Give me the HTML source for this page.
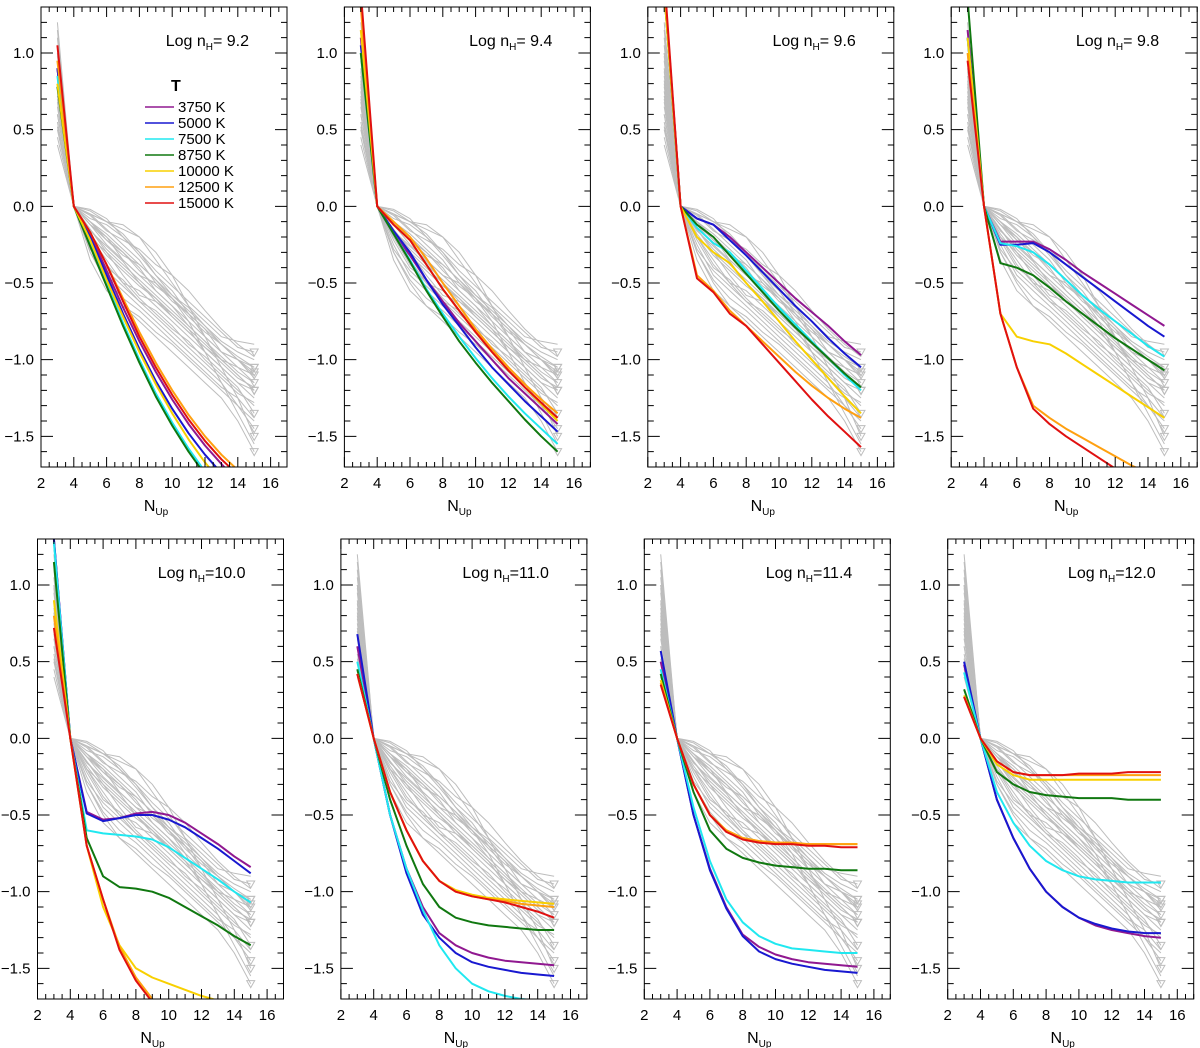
<!DOCTYPE html>
<html><head><meta charset="utf-8"><style>
html,body{margin:0;padding:0;background:#fff;}
svg{display:block;font-family:"Liberation Sans",Arial,sans-serif;}
</style></head><body>
<svg id="chart" width="1200" height="1048" viewBox="0 0 1200 1048" xmlns="http://www.w3.org/2000/svg"></svg>
<script>
const nUp = [3,4,5,6,7,8,9,10,11,12,13,14,15];
const xTicks = [2,4,6,8,10,12,14,16];
const yTicks = [-1.5,-1.0,-0.5,0.0,0.5,1.0];
const yTickLabels = ["\u22121.5","\u22121.0","\u22120.5","0.0","0.5","1.0"];
const densityLabels = ["= 9.2","= 9.4","= 9.6","= 9.8","=10.0","=11.0","=11.4","=12.0"];
const tempLabels = ["3750 K","5000 K","7500 K","8750 K","10000 K","12500 K","15000 K"];
const tempColors = ["#901890","#1818d0","#20e8f0","#107810","#f8d000","#ffa010","#e01010"];

const obs01 = [1.2,0,-0.05,-0.15,-0.25,-0.35,-0.5,-0.6,-0.7,-0.85,-0.95,-1.05,-1.1];
const obs02 = [0.9,0,-0.1,-0.2,-0.3,-0.4,-0.55,-0.65,-0.75,-0.85,-0.95,-1.0,-1.1];
const obs03 = [0.6,0,-0.15,-0.3,-0.4,-0.5,-0.6,-0.7,-0.8,-0.9,-1.0,-1.1,-1.2];
const obs04 = [0.75,0,-0.2,-0.35,-0.5,-0.55,-0.65,-0.75,-0.85,-0.95,-1.05,-1.15,-1.25];
const obs05 = [1.0,0,-0.08,-0.12,-0.2,-0.3,-0.45,-0.55,-0.7,-0.8,-0.95,-1.0,-1.05];
const obs06 = [0.5,0,-0.25,-0.45,-0.55,-0.65,-0.75,-0.85,-0.95,-1.05,-1.15,-1.3,-1.4];
const obs07 = [0.85,0,-0.12,-0.25,-0.35,-0.45,-0.5,-0.62,-0.7,-0.8,-0.9,-0.98,-1.05];
const obs08 = [1.1,0,-0.05,-0.1,-0.12,-0.2,-0.35,-0.5,-0.65,-0.75,-0.85,-0.88,-0.9];
const obs09 = [0.4,0,-0.3,-0.5,-0.65,-0.75,-0.85,-0.95,-1.05,-1.15,-1.25,-1.4,-1.6];
const obs10 = [0.7,0,-0.18,-0.32,-0.42,-0.52,-0.6,-0.72,-0.82,-0.92,-1.02,-1.12,-1.18];
const obs11 = [0.95,0,-0.1,-0.22,-0.3,-0.42,-0.52,-0.6,-0.72,-0.82,-0.9,-1.0,-1.08];
const obs12 = [0.65,0,-0.22,-0.4,-0.48,-0.6,-0.7,-0.8,-0.88,-1.0,-1.1,-1.2,-1.3];
const obs13 = [0.8,0,-0.15,-0.28,-0.38,-0.48,-0.58,-0.68,-0.78,-0.88,-0.98,-1.08,-1.15];
const obs14 = [1.05,0,-0.02,-0.08,-0.2,-0.32,-0.45,-0.58,-0.66,-0.78,-0.9,-1.0,-1.12];
const obs15 = [0.55,0,-0.28,-0.42,-0.52,-0.62,-0.68,-0.78,-0.9,-0.98,-1.08,-1.18,-1.35];
const obs16 = [0.88,0,-0.1,-0.18,-0.28,-0.38,-0.48,-0.58,-0.68,-0.78,-0.88,-0.95,-1.0];
const obs17 = [0.72,0,-0.2,-0.3,-0.45,-0.58,-0.62,-0.7,-0.8,-0.95,-1.05,-1.15,-1.2];
const obs18 = [0.6,0,-0.12,-0.2,-0.35,-0.45,-0.55,-0.65,-0.78,-0.88,-1.0,-1.05,-1.15];
const obs19 = [0.45,0,-0.35,-0.55,-0.65,-0.72,-0.82,-0.9,-1.0,-1.1,-1.2,-1.3,-1.45];
const obs20 = [0.98,0,-0.06,-0.16,-0.22,-0.28,-0.38,-0.45,-0.55,-0.68,-0.8,-0.9,-0.98];
const obs21 = [0.78,0,-0.16,-0.26,-0.36,-0.5,-0.62,-0.72,-0.82,-0.92,-1.0,-1.1,-1.2];
const obs22 = [0.68,0,-0.2,-0.38,-0.5,-0.62,-0.72,-0.82,-0.92,-1.02,-1.12,-1.22,-1.28];
const obs23 = [1.15,0,-0.03,-0.1,-0.18,-0.3,-0.42,-0.52,-0.62,-0.72,-0.82,-0.92,-0.95];
const obs24 = [0.52,0,-0.3,-0.48,-0.6,-0.68,-0.78,-0.88,-0.98,-1.08,-1.18,-1.25,-1.38];
const obs25 = [1.0,0,-0.05,-0.1,-0.15,-0.2,-0.3,-0.45,-0.65,-0.85,-1.05,-1.25,-1.5];
const obs26 = [0.82,0,-0.12,-0.22,-0.32,-0.38,-0.48,-0.6,-0.75,-0.95,-1.15,-1.35,-1.55];
const observed = [obs01,obs02,obs03,obs04,obs05,obs06,obs07,obs08,obs09,obs10,obs11,obs12,obs13,obs14,obs15,obs16,obs17,obs18,obs19,obs20,obs21,obs22,obs23,obs24,obs25,obs26];

const p1_t3750 = [0.9,0,-0.18,-0.42,-0.66,-0.88,-1.08,-1.26,-1.42,-1.56,-1.68,-1.8,-1.9];
const p1_t5000 = [0.9,0,-0.2,-0.45,-0.7,-0.93,-1.14,-1.32,-1.48,-1.62,-1.74,-1.85,-1.95];
const p1_t7500 = [0.85,0,-0.25,-0.5,-0.76,-1.0,-1.22,-1.41,-1.58,-1.73,-1.86,-1.97,-2.07];
const p1_t8750 = [0.78,0,-0.26,-0.52,-0.78,-1.02,-1.24,-1.43,-1.6,-1.75,-1.88,-1.99,-2.09];
const p1_t10000 = [0.8,0,-0.22,-0.48,-0.72,-0.95,-1.16,-1.35,-1.52,-1.67,-1.8,-1.92,-2.02];
const p1_t12500 = [0.95,0,-0.17,-0.38,-0.6,-0.82,-1.02,-1.2,-1.36,-1.5,-1.62,-1.72,-1.82];
const p1_t15000 = [1.05,0,-0.17,-0.38,-0.62,-0.85,-1.05,-1.23,-1.39,-1.53,-1.65,-1.75,-1.85];

const p2_t3750 = [1.1,0,-0.18,-0.32,-0.48,-0.62,-0.76,-0.88,-1.0,-1.12,-1.22,-1.32,-1.42];
const p2_t5000 = [1.05,0,-0.16,-0.3,-0.48,-0.64,-0.78,-0.92,-1.05,-1.16,-1.27,-1.37,-1.47];
const p2_t7500 = [1.0,0,-0.18,-0.35,-0.54,-0.7,-0.85,-0.99,-1.12,-1.24,-1.35,-1.45,-1.55];
const p2_t8750 = [1.0,0,-0.18,-0.36,-0.55,-0.72,-0.88,-1.02,-1.15,-1.27,-1.39,-1.5,-1.6];
const p2_t10000 = [1.15,0,-0.12,-0.22,-0.38,-0.54,-0.68,-0.82,-0.95,-1.07,-1.18,-1.29,-1.4];
const p2_t12500 = [1.3,0,-0.1,-0.2,-0.34,-0.5,-0.65,-0.8,-0.93,-1.05,-1.16,-1.26,-1.35];
const p2_t15000 = [1.4,0,-0.12,-0.22,-0.38,-0.54,-0.68,-0.82,-0.95,-1.07,-1.18,-1.28,-1.38];

const p3_t3750 = [1.45,0,-0.08,-0.12,-0.2,-0.3,-0.4,-0.5,-0.6,-0.69,-0.78,-0.88,-0.97];
const p3_t5000 = [1.45,0,-0.08,-0.12,-0.22,-0.32,-0.43,-0.54,-0.65,-0.75,-0.86,-0.96,-1.05];
const p3_t7500 = [1.4,0,-0.14,-0.24,-0.3,-0.42,-0.54,-0.66,-0.77,-0.88,-0.99,-1.1,-1.2];
const p3_t8750 = [1.4,0,-0.12,-0.2,-0.32,-0.44,-0.56,-0.68,-0.79,-0.89,-0.99,-1.09,-1.18];
const p3_t10000 = [1.4,0,-0.2,-0.3,-0.37,-0.5,-0.62,-0.75,-0.88,-1.0,-1.12,-1.24,-1.35];
const p3_t12500 = [1.45,0,-0.45,-0.55,-0.68,-0.78,-0.88,-0.98,-1.08,-1.17,-1.25,-1.32,-1.38];
const p3_t15000 = [1.5,0,-0.47,-0.56,-0.7,-0.78,-0.9,-1.02,-1.14,-1.26,-1.37,-1.47,-1.57];

const p4_t3750 = [1.15,0,-0.23,-0.23,-0.23,-0.28,-0.35,-0.43,-0.5,-0.57,-0.64,-0.71,-0.78];
const p4_t5000 = [1.1,0,-0.25,-0.25,-0.24,-0.3,-0.38,-0.46,-0.54,-0.62,-0.7,-0.78,-0.85];
const p4_t7500 = [1.1,0,-0.24,-0.26,-0.3,-0.38,-0.48,-0.58,-0.67,-0.75,-0.83,-0.91,-0.98];
const p4_t8750 = [1.35,0,-0.37,-0.4,-0.45,-0.53,-0.62,-0.7,-0.78,-0.86,-0.93,-1.0,-1.07];
const p4_t10000 = [1.1,0,-0.7,-0.85,-0.88,-0.9,-0.96,-1.03,-1.1,-1.17,-1.24,-1.31,-1.38];
const p4_t12500 = [1.0,0,-0.7,-1.05,-1.3,-1.38,-1.45,-1.51,-1.57,-1.63,-1.69,-1.74,-1.79];
const p4_t15000 = [0.95,0,-0.7,-1.05,-1.32,-1.42,-1.5,-1.57,-1.64,-1.71,-1.78,-1.84,-1.9];

const p5_t3750 = [1.3,0,-0.48,-0.53,-0.52,-0.49,-0.48,-0.5,-0.55,-0.62,-0.69,-0.77,-0.84];
const p5_t5000 = [1.3,0,-0.49,-0.54,-0.52,-0.5,-0.5,-0.53,-0.58,-0.65,-0.72,-0.8,-0.88];
const p5_t7500 = [1.28,0,-0.6,-0.62,-0.63,-0.64,-0.66,-0.71,-0.78,-0.85,-0.92,-1.0,-1.07];
const p5_t8750 = [1.15,0,-0.65,-0.9,-0.97,-0.98,-1.0,-1.04,-1.1,-1.16,-1.22,-1.29,-1.35];
const p5_t10000 = [0.9,0,-0.7,-1.1,-1.35,-1.5,-1.56,-1.6,-1.64,-1.68,-1.71,-1.74,-1.77];
const p5_t12500 = [0.8,0,-0.7,-1.05,-1.36,-1.56,-1.7,-1.8,-1.88,-1.95,-2.0,-2.05,-2.1];
const p5_t15000 = [0.72,0,-0.7,-1.05,-1.38,-1.58,-1.72,-1.82,-1.9,-1.97,-2.02,-2.07,-2.12];

const p6_t3750 = [0.6,0,-0.5,-0.85,-1.1,-1.27,-1.35,-1.4,-1.43,-1.45,-1.46,-1.47,-1.48];
const p6_t5000 = [0.68,0,-0.5,-0.88,-1.15,-1.3,-1.4,-1.46,-1.49,-1.51,-1.53,-1.54,-1.55];
const p6_t7500 = [0.5,0,-0.5,-0.85,-1.12,-1.35,-1.5,-1.6,-1.65,-1.68,-1.7,-1.71,-1.72];
const p6_t8750 = [0.45,0,-0.4,-0.7,-0.95,-1.1,-1.17,-1.2,-1.22,-1.23,-1.24,-1.25,-1.25];
const p6_t10000 = [0.42,0,-0.35,-0.6,-0.8,-0.93,-0.99,-1.02,-1.04,-1.05,-1.06,-1.07,-1.08];
const p6_t12500 = [0.42,0,-0.35,-0.6,-0.8,-0.93,-1.0,-1.03,-1.05,-1.06,-1.08,-1.09,-1.1];
const p6_t15000 = [0.42,0,-0.35,-0.6,-0.8,-0.93,-1.0,-1.03,-1.05,-1.07,-1.1,-1.13,-1.17];

const p7_t3750 = [0.5,0,-0.5,-0.85,-1.1,-1.28,-1.36,-1.41,-1.44,-1.46,-1.47,-1.48,-1.49];
const p7_t5000 = [0.57,0,-0.5,-0.86,-1.11,-1.29,-1.39,-1.44,-1.47,-1.49,-1.51,-1.52,-1.53];
const p7_t7500 = [0.45,0,-0.45,-0.8,-1.05,-1.2,-1.29,-1.34,-1.37,-1.38,-1.39,-1.4,-1.4];
const p7_t8750 = [0.42,0,-0.35,-0.6,-0.72,-0.78,-0.81,-0.83,-0.84,-0.85,-0.85,-0.86,-0.86];
const p7_t10000 = [0.38,0,-0.3,-0.5,-0.6,-0.65,-0.67,-0.68,-0.69,-0.69,-0.69,-0.69,-0.69];
const p7_t12500 = [0.36,0,-0.3,-0.5,-0.6,-0.65,-0.67,-0.68,-0.68,-0.69,-0.69,-0.69,-0.69];
const p7_t15000 = [0.35,0,-0.3,-0.5,-0.61,-0.66,-0.68,-0.69,-0.69,-0.7,-0.7,-0.71,-0.71];

const p8_t3750 = [0.48,0,-0.4,-0.65,-0.85,-1.0,-1.1,-1.17,-1.22,-1.25,-1.27,-1.29,-1.3];
const p8_t5000 = [0.5,0,-0.4,-0.65,-0.85,-1.0,-1.1,-1.17,-1.21,-1.24,-1.26,-1.27,-1.27];
const p8_t7500 = [0.43,0,-0.35,-0.55,-0.7,-0.8,-0.86,-0.9,-0.92,-0.93,-0.94,-0.94,-0.94];
const p8_t8750 = [0.32,0,-0.22,-0.3,-0.35,-0.37,-0.38,-0.39,-0.39,-0.39,-0.4,-0.4,-0.4];
const p8_t10000 = [0.28,0,-0.17,-0.24,-0.27,-0.27,-0.27,-0.27,-0.27,-0.27,-0.27,-0.27,-0.27];
const p8_t12500 = [0.27,0,-0.15,-0.22,-0.24,-0.24,-0.24,-0.24,-0.24,-0.24,-0.24,-0.24,-0.24];
const p8_t15000 = [0.27,0,-0.15,-0.22,-0.24,-0.24,-0.24,-0.23,-0.23,-0.23,-0.22,-0.22,-0.22];

const models = [
 [p1_t3750,p1_t5000,p1_t7500,p1_t8750,p1_t10000,p1_t12500,p1_t15000],
 [p2_t3750,p2_t5000,p2_t7500,p2_t8750,p2_t10000,p2_t12500,p2_t15000],
 [p3_t3750,p3_t5000,p3_t7500,p3_t8750,p3_t10000,p3_t12500,p3_t15000],
 [p4_t3750,p4_t5000,p4_t7500,p4_t8750,p4_t10000,p4_t12500,p4_t15000],
 [p5_t3750,p5_t5000,p5_t7500,p5_t8750,p5_t10000,p5_t12500,p5_t15000],
 [p6_t3750,p6_t5000,p6_t7500,p6_t8750,p6_t10000,p6_t12500,p6_t15000],
 [p7_t3750,p7_t5000,p7_t7500,p7_t8750,p7_t10000,p7_t12500,p7_t15000],
 [p8_t3750,p8_t5000,p8_t7500,p8_t8750,p8_t10000,p8_t12500,p8_t15000]
];

const NS = "http://www.w3.org/2000/svg";
const svg = document.getElementById('chart');
function mk(tag, attrs, parent){
  const e = document.createElementNS(NS, tag);
  for (const k in attrs) e.setAttribute(k, attrs[k]);
  (parent||svg).appendChild(e);
  return e;
}
const X0=2, X1=17, Y0=-1.7, Y1=1.3, W=246, H=460;

for (let p=0; p<8; p++){
  const r = Math.floor(p/4), c = p%4;
  const left = (r===0?41:37.5) + c*303.4;
  const top = 7 + r*532;
  const sx = v => left + (v-X0)/(X1-X0)*W;
  const sy = v => top + (Y1-v)/(Y1-Y0)*H;
  const g = mk('g', {});
  
  
  const clip = mk('clipPath', {id:'clip'+p}, g);
  mk('rect', {x:left, y:top, width:W, height:H}, clip);
  const plot = mk('g', {'clip-path':'url(#clip'+p+')'}, g);
  
  
  observed.forEach((s, i) => {
    const d = s.map((v,j)=> (j?'L':'M') + sx(nUp[j]).toFixed(1) + ' ' + sy(v).toFixed(1)).join(' ');
    const pl = mk('path', {d:d, fill:'none', stroke:'#bdbdbd', 'stroke-width':1}, plot);
    
    
    if (i%2===0){
      const tx = sx(nUp[12]), ty = sy(s[12]);
      const tri = mk('path', {d:`M${tx-4} ${ty-3} L${tx+4} ${ty-3} L${tx} ${ty+4} Z`, fill:'none', stroke:'#bdbdbd', 'stroke-width':1}, plot);
      
      
    }
  });
  models[p].forEach((s, k) => {
    const d = s.map((v,j)=> (j?'L':'M') + sx(nUp[j]).toFixed(1) + ' ' + sy(v).toFixed(1)).join(' ');
    const ml = mk('path', {d:d, fill:'none', stroke:tempColors[k], 'stroke-width':2, 'stroke-linejoin':'round'}, plot);
    
    
  });
  const fr = mk('rect', {x:left, y:top, width:W, height:H, fill:'none', stroke:'#000', 'stroke-width':1}, g);
  
  
  let td = '';
  for (let v=2; v<=17.001; v+=0.5){
    const x = sx(v), major = Math.abs(v/2-Math.round(v/2))<1e-6, L = major?10:5;
    td += `M${x} ${top+H} V${top+H-L} M${x} ${top} V${top+L} `;
  }
  for (let i=-17; i<=13; i++){
    const v=i/10, y=sy(v), major = i%5===0, L = major?12:6;
    td += `M${left} ${y} H${left+L} M${left+W} ${y} H${left+W-L} `;
  }
  const tk = mk('path', {d:td, stroke:'#000', 'stroke-width':1, fill:'none'}, g);
  
  
  xTicks.forEach(v => {
    const t = mk('text', {x:sx(v), y:top+H+21, 'font-size':15, 'text-anchor':'middle', fill:'#000'}, g);
    t.textContent = v;
    
    
  });
  yTicks.forEach((v,i) => {
    const t = mk('text', {x:left-7, y:sy(v)+5, 'font-size':15, 'text-anchor':'end', fill:'#000'}, g);
    t.textContent = yTickLabels[i];
    
    
  });
  const xt = mk('text', {x:left+W/2-8, y:top+H+44, 'font-size':16, 'text-anchor':'middle', fill:'#000'}, g);
  xt.innerHTML = 'N<tspan font-size="10" dy="4">Up</tspan>';
  
  
  const lb = mk('text', {x:left+208, y:top+39, 'font-size':16, 'text-anchor':'end', fill:'#000'}, g);
  lb.innerHTML = 'Log n<tspan font-size="10" dy="4">H</tspan><tspan dy="-4">' + densityLabels[p] + '</tspan>';
  
  

  if (p===0){
    const lg = mk('g', {}, g);
    
    
    const tt = mk('text', {x:171, y:91, 'font-size':16, 'font-weight':'bold', fill:'#000'}, lg);
    tt.textContent = 'T';
    
    
    tempLabels.forEach((lab,k) => {
      const y = 107 + k*16;
      const ln = mk('line', {x1:145, x2:174, y1:y, y2:y, stroke:tempColors[k], 'stroke-width':1.5}, lg);
      
      
      const t = mk('text', {x:178, y:y+5, 'font-size':15, fill:'#000'}, lg);
      t.textContent = lab;
      
      
    });
  }
}
</script>
</body></html>
